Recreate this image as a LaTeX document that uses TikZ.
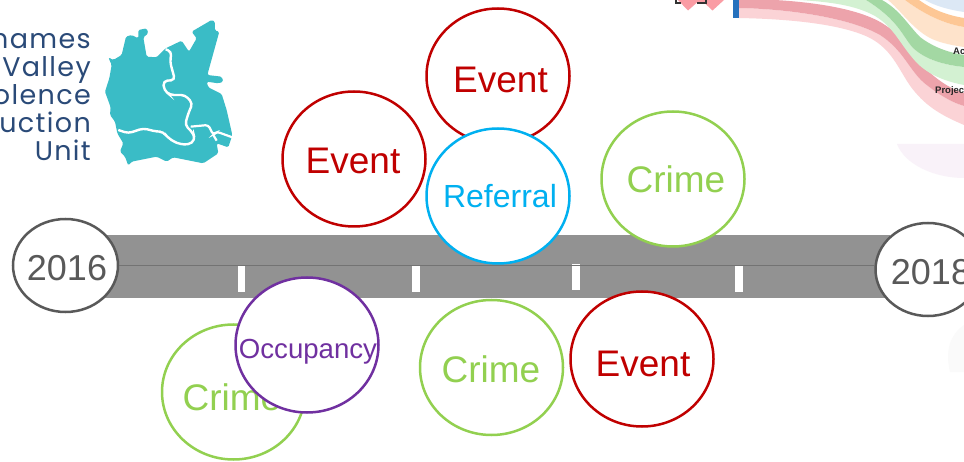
\documentclass[tikz,border=0pt]{standalone}
\usepackage{fontspec}
\setmainfont{Liberation Sans}
\newfontfamily\logofont[LetterSpace=5]{Poppins}
\definecolor{crimson}{HTML}{C00000}
\definecolor{leaf}{HTML}{92D050}
\definecolor{sky}{HTML}{00B0F0}
\definecolor{plum}{HTML}{7030A0}
\definecolor{roadgrey}{HTML}{929292}
\definecolor{yeargrey}{HTML}{595959}
\definecolor{teal2}{HTML}{3ABCC6}
\definecolor{navy2}{HTML}{2A4A78}
\definecolor{flowpinkA}{HTML}{FBD3D6}
\definecolor{flowpinkB}{HTML}{EDA3AB}
\definecolor{flowgreenA}{HTML}{D3F1D2}
\definecolor{flowgreenB}{HTML}{A3D8A3}
\definecolor{floworangeA}{HTML}{FEE3CB}
\definecolor{floworangeB}{HTML}{FDC795}
\definecolor{flowblue}{HTML}{DCE8F5}
\definecolor{flowdiamond}{HTML}{FA9CA4}
\tikzset{
  bubble/.style={draw=#1,line width=2.5pt,fill=white,ellipse,inner sep=0pt,minimum width=143pt,minimum height=135pt},
  yearbubble/.style={draw=yeargrey,line width=2.5pt,fill=white,ellipse,inner sep=0pt,minimum width=105pt,minimum height=93pt},
  big/.style={text=#1,anchor=base,inner sep=0pt,font=\fontsize{37}{37}\selectfont},
  logoline/.style={anchor=base east,inner sep=0pt,text=navy2,font=\logofont\fontsize{27}{27}\selectfont},
  dashmark/.style={fill=white,draw=none},
  flowtext/.style={anchor=base west,inner sep=0pt,text=black!85,font=\bfseries\fontsize{9.5}{9.5}\selectfont}
}
\usetikzlibrary{shapes.geometric}
\begin{document}
\begin{tikzpicture}[x=1pt,y=-1pt]
\useasboundingbox (0,0) rectangle (964,462);
\clip (0,0) rectangle (964,462);
\fill[white] (0,0) rectangle (964,462);
% faint smudges
\fill[violet!5] (897,144) .. controls (905,165) and (935,178) .. (964,178) -- (964,144) -- cycle;
\fill[black!2] (964,325) .. controls (950,335) and (945,350) .. (950,372) -- (964,372) -- cycle;
% logo
\node[logoline] (l1) at (91,49) {hames};
\node[logoline] (l2) at (91,77) {Valley};
\node[logoline] (l3) at (91,105) {olence};
\node[logoline] (l4) at (91,133) {uction};
\node[logoline] (l5) at (91,161) {Unit};
\begin{scope}[x=0.3333pt,y=-0.3333pt]
\fill[teal2,rounded corners=1.5pt] (415,90) -- (440,85) -- (445,100) -- (430,112) -- (440,170) -- (470,172) -- (497,145) -- (545,122) -- (567,155) -- (590,115) -- (575,95) -- (635,60) -- (645,65) -- (645,92) -- (658,95) -- (622,225) -- (665,230) -- (670,245) -- (655,250) -- (620,245) -- (625,262) -- (665,282) -- (680,330) -- (697,405) -- (685,442) -- (650,430) -- (655,460) -- (610,490) -- (560,480) -- (520,472) -- (500,485) -- (470,470) -- (420,480) -- (395,485) -- (385,497) -- (375,470) -- (360,455) -- (370,430) -- (352,400) -- (345,365) -- (330,345) -- (332,322) -- (315,275) -- (328,235) -- (335,195) -- (325,172) -- (340,180) -- (365,165) -- (378,110) -- (395,105) -- (415,115) -- cycle;
\draw[white,line width=2.4pt,rounded corners=4pt] (497,148) -- (515,155) -- (510,185) -- (525,240) -- (490,243) -- (492,270) -- (510,285) -- (555,285) -- (578,310) -- (565,340) -- (555,375) -- (580,400) -- (585,420) -- (565,435) -- (530,430) -- (500,410) -- (490,395) -- (470,395) -- (430,385) -- (385,400) -- (355,390);
\draw[white,line width=2.2pt,rounded corners=3pt] (572,380) -- (625,375) -- (640,405) -- (650,395) -- (697,412);
\draw[white,line width=2.2pt] (640,405) -- (650,422);
\end{scope}
% flow chart fragment
\fill[flowpinkA] (739,18) .. controls (790,19) and (840,24) .. (868,37) .. controls (895,50) and (900,75) .. (915,92) .. controls (930,110) and (948,118) .. (964,125) -- (964,106) .. controls (950,102) and (935,92) .. (923,82) .. controls (908,68) and (903,50) .. (880,35) .. controls (850,18) and (790,9) .. (739,8) -- cycle;
\fill[flowpinkB] (739,8) .. controls (790,9) and (850,18) .. (880,35) .. controls (903,50) and (908,68) .. (923,82) .. controls (935,92) and (950,102) .. (964,106) -- (964,93) .. controls (948,88) and (935,78) .. (925,68) .. controls (912,52) and (905,38) .. (885,25) .. controls (860,8) and (810,2) .. (775,0) -- (739,0) -- cycle;
\fill[flowgreenA] (800,0) .. controls (830,2) and (855,5) .. (875,16) .. controls (895,28) and (900,45) .. (917,63) .. controls (930,76) and (948,82) .. (964,85) -- (964,67) .. controls (945,65) and (925,60) .. (912,47) .. controls (902,35) and (898,20) .. (866,0) -- cycle;
\fill[flowgreenB] (866,0) .. controls (898,20) and (902,35) .. (912,47) .. controls (925,60) and (945,65) .. (964,67) -- (964,55) .. controls (945,52) and (930,45) .. (920,37) .. controls (908,25) and (900,10) .. (882,0) -- cycle;
\fill[floworangeA] (888,0) .. controls (900,10) and (910,25) .. (925,35) .. controls (935,42) and (950,45) .. (964,47) -- (964,27) .. controls (945,24) and (925,15) .. (905,0) -- cycle;
\fill[floworangeB] (905,0) .. controls (925,15) and (945,24) .. (964,27) -- (964,18) .. controls (945,15) and (930,8) .. (919,0) -- cycle;
\fill[flowblue] (925,0) .. controls (935,6) and (950,10) .. (964,12) -- (964,0) -- cycle;
\node[flowtext] (act) at (953,55) {Ac};
\node[flowtext] (proj) at (935,94) {Projec};
\fill[blue!50!cyan!70!black,opacity=.85] (733,0) rectangle (738.5,18.5);
\fill[flowdiamond] (678,0) -- (688,10.5) -- (697,2.5) -- (704,2.5) -- (712.5,10.5) -- (724,0) -- cycle;
\draw[black!80,line width=1.2pt] (676,0) -- (676,3) -- (681,3) (697,3) -- (706,3) -- (706,0);
% road
\fill[roadgrey] (100,235) rectangle (890,298);
\fill[dashmark] (238,266) rectangle (245,292);
\fill[dashmark] (412,266) rectangle (420,292);
\fill[dashmark] (572,264) rectangle (580,290);
\fill[dashmark] (735,266) rectangle (743,292);
% years
\node[yearbubble] (y16) at (65.5,265.5) {};
\node[yearbubble] (y18) at (928,269.5) {};
\draw[black!55,line width=1pt] (y16.east) -- (y16.east -| y18.west);
\node[big=yeargrey,font=\fontsize{36}{36}\selectfont] (t16) at (67,281) {2016};
\node[big=yeargrey,font=\fontsize{36}{36}\selectfont] (t18) at (931,285) {2018};
% bubbles
\node[bubble=leaf] (c1) at (233.5,392) {};
\node[big=leaf] (tc1) at (232,410) {Crime};
\node[bubble=plum] (o1) at (307,345) {};
\node[big=plum,font=\fontsize{27.6}{27.6}\selectfont] (to1) at (308,359) {Occupancy};
\node[bubble=crimson] (e1) at (354,159) {};
\node[big=crimson] (te1) at (353,174) {Event};
\node[bubble=crimson] (e2) at (498,76) {};
\node[big=crimson] (te2) at (500.5,93) {Event};
\node[bubble=sky] (r1) at (498,196) {};
\node[big=sky,font=\fontsize{32}{32}\selectfont] (tr1) at (500,207.5) {Referral};
\node[bubble=leaf] (c2) at (673,179) {};
\node[big=leaf] (tc2) at (676,193) {Crime};
\node[bubble=leaf] (c3) at (491.5,367.5) {};
\node[big=leaf] (tc3) at (491,382) {Crime};
\node[bubble=crimson] (e3) at (642,359) {};
\node[big=crimson] (te3) at (643,377) {Event};
\end{tikzpicture}
\end{document}
